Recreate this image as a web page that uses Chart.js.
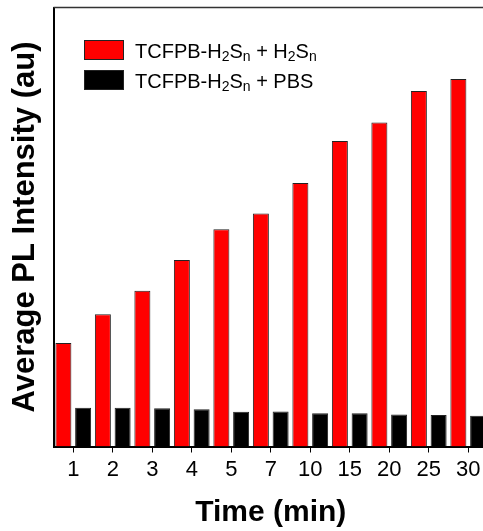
<!DOCTYPE html>
<html>
<head>
<meta charset="utf-8">
<script src="https://cdn.jsdelivr.net/npm/chart.js@4.4.1/dist/chart.umd.min.js"></script>
<style>
  html, body { margin: 0; padding: 0; background: #fff; overflow: hidden; }
  #wrap { position: relative; width: 492px; height: 531px; }
</style>
</head>
<body>
<div id="wrap"><canvas id="plChart"></canvas></div>
<script>
// Average PL intensity over time (arbitrary units, axis runs 0-100)
const timeLabels = ['1', '2', '3', '4', '5', '7', '10', '15', '20', '25', '30'];
const withH2Sn = [23.6, 30.1, 35.5, 42.5, 49.5, 53.1, 60.0, 69.6, 73.8, 81.0, 83.7];
const withPBS = [8.8, 8.8, 8.7, 8.5, 7.9, 8.0, 7.6, 7.6, 7.3, 7.2, 7.0];
// "_x" marks a subscript character
const seriesNames = ['TCFPB-H_2S_n + H_2S_n', 'TCFPB-H_2S_n + PBS'];
const seriesColors = ['#ff0000', '#000000'];

const FONT = "'Liberation Sans', Arial, Helvetica, sans-serif";

// legend drawn by hand so the subscripts come out right
const subLegend = {
    id: 'subLegend',
    afterDraw(chart) {
        const { ctx, chartArea } = chart;
        const x0 = chartArea.left + 30.5;
        let y0 = chartArea.top + 32.5;
        ctx.save();
        chart.data.datasets.forEach(ds => {
            ctx.fillStyle = ds.backgroundColor;
            ctx.fillRect(x0, y0, 40, 20);
            ctx.strokeStyle = '#222';
            ctx.lineWidth = 1;
            ctx.strokeRect(x0 + 0.5, y0 + 0.5, 39, 19);

            let x = x0 + 51;
            const base = y0 + 17.7;
            ctx.fillStyle = '#000';
            ctx.textBaseline = 'alphabetic';
            ds.label.split(/(_.)/).forEach(part => {
                if (!part) return;
                if (part[0] === '_') {
                    ctx.font = `14px ${FONT}`;
                    ctx.fillText(part[1], x, base + 3);
                    x += ctx.measureText(part[1]).width;
                } else {
                    ctx.font = `20px ${FONT}`;
                    ctx.fillText(part, x, base);
                    x += ctx.measureText(part).width;
                }
            });
            y0 += 30;
        });
        ctx.restore();
    }
};

// top and right edges of the plot box
const frame = {
    id: 'frame',
    afterDraw(chart) {
        const { ctx, chartArea: a } = chart;
        ctx.save();
        ctx.strokeStyle = '#333';
        ctx.lineWidth = 1.5;
        ctx.beginPath();
        ctx.moveTo(a.left, a.top);
        ctx.lineTo(a.right, a.top);
        ctx.lineTo(a.right, a.bottom);
        ctx.stroke();
        ctx.restore();
    }
};

const ctx = document.getElementById('plChart').getContext('2d');

new Chart(ctx, {
    type: 'bar',
    data: {
        labels: timeLabels,
        datasets: [
            {
                label: seriesNames[0],
                data: withH2Sn,
                backgroundColor: seriesColors[0],
                borderColor: '#222',
                borderWidth: 1
            },
            {
                label: seriesNames[1],
                data: withPBS,
                backgroundColor: seriesColors[1],
                borderColor: '#222',
                borderWidth: 1
            }
        ]
    },
    options: {
        responsive: true,
        maintainAspectRatio: false,
        animation: false,
        layout: { padding: { top: 7.5, left: 0, right: 4, bottom: 0 } },
        datasets: {
            bar: { categoryPercentage: 1, barPercentage: 0.81 }
        },
        plugins: {
            legend: { display: false },
            tooltip: { enabled: false }
        },
        scales: {
            x: {
                grid: {
                    display: true,
                    drawOnChartArea: false,
                    drawTicks: true,
                    tickLength: 6,
                    offset: false,
                    color: '#000',
                    lineWidth: 1
                },
                border: { display: true, color: '#000', width: 2 },
                ticks: {
                    color: '#000',
                    padding: 4,
                    maxRotation: 0,
                    autoSkip: false,
                    font: { family: FONT, size: 22 }
                },
                title: {
                    display: true,
                    text: 'Time (min)',
                    color: '#000',
                    font: { family: FONT, size: 30, weight: 'bold', lineHeight: 1 },
                    padding: { top: 0, bottom: 3 }
                },
                afterFit(scale) { scale.height = 84.5; }
            },
            y: {
                min: 0,
                max: 100,
                grid: { display: false },
                border: { display: true, color: '#000', width: 2 },
                ticks: { display: false },
                title: {
                    display: true,
                    text: 'Average PL Intensity (au)',
                    color: '#000',
                    font: { family: FONT, size: 31, weight: 'bold', lineHeight: 1 },
                    padding: { top: 10, bottom: 0 }
                },
                afterFit(scale) { scale.width = 53.5; }
            }
        }
    },
    plugins: [frame, subLegend]
});
</script>
</body>
</html>
